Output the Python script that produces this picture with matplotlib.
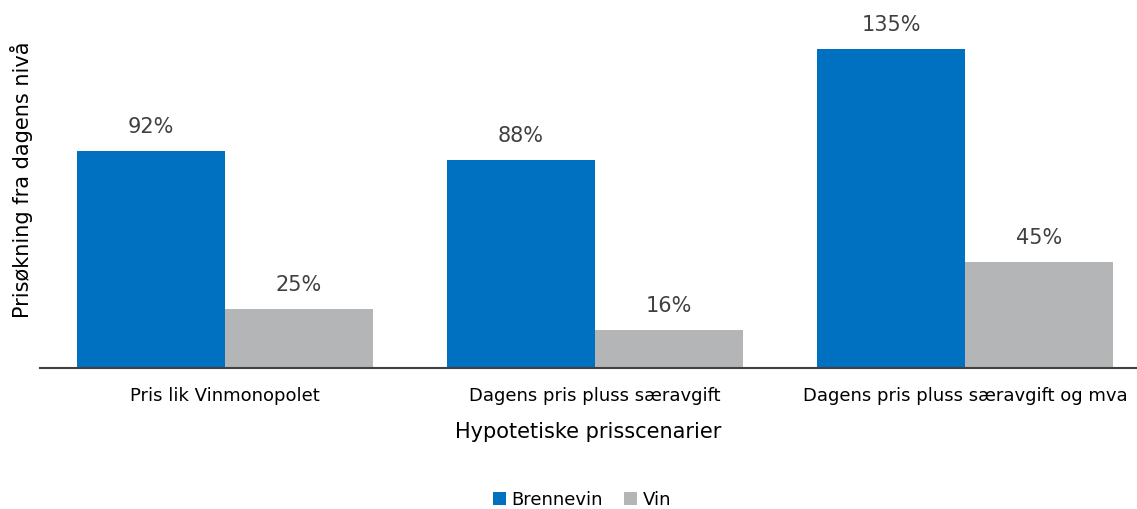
import matplotlib
matplotlib.use("Agg")
import matplotlib.pyplot as plt
import numpy as np

categories = ["Pris lik Vinmonopolet", "Dagens pris pluss særavgift", "Dagens pris pluss særavgift og mva"]
brennevin = [92, 88, 135]
vin = [25, 16, 45]
series_names = ["Brennevin", "Vin"]

blue = "#0070C0"
grey = "#B4B5B7"
txt_grey = "#404040"

plt.rcParams['font.family'] = ['DejaVu Sans']

fig = plt.figure(figsize=(11.37, 5.09), dpi=100)
ax = fig.add_axes([40 / 1137, 141 / 509, 1097 / 1137, 368 / 509])

x = np.arange(len(categories))
w = 0.4
b1 = ax.bar(x - w / 2, brennevin, w, color=blue, label=series_names[0])
b2 = ax.bar(x + w / 2, vin, w, color=grey, label=series_names[1])

for bars, vals in ((b1, brennevin), (b2, vin)):
    for r, v in zip(bars, vals):
        ax.annotate(f"{v}%", (r.get_x() + r.get_width() / 2, v), xytext=(0, 10),
                    textcoords="offset points", ha="center", va="bottom",
                    fontsize=15, color=txt_grey)

ax.set_xlim(-0.5, -0.5 + 1097 / 370)
ax.set_ylim(0, 155.7)
ax.set_xticks(x)
ax.set_xticklabels(categories, fontsize=13)
ax.tick_params(axis="x", length=0, pad=14)
ax.set_yticks([])
for s in ["top", "right", "left"]:
    ax.spines[s].set_visible(False)
ax.spines["bottom"].set_color(txt_grey)
ax.spines["bottom"].set_linewidth(1.5)

ax.set_xlabel("Hypotetiske prisscenarier", fontsize=15, labelpad=12)
fig.text(22 / 1137, 1 - 180 / 509, "Prisøkning fra dagens nivå", rotation=90,
         ha="center", va="center", fontsize=15)

fig.legend(loc="center", bbox_to_anchor=(582 / 1137, 1 - 500 / 509), ncol=2,
           frameon=False, fontsize=13, handlelength=0.7, handleheight=0.7,
           handletextpad=0.3, columnspacing=1.2)

fig.savefig("out.png", dpi=100)
